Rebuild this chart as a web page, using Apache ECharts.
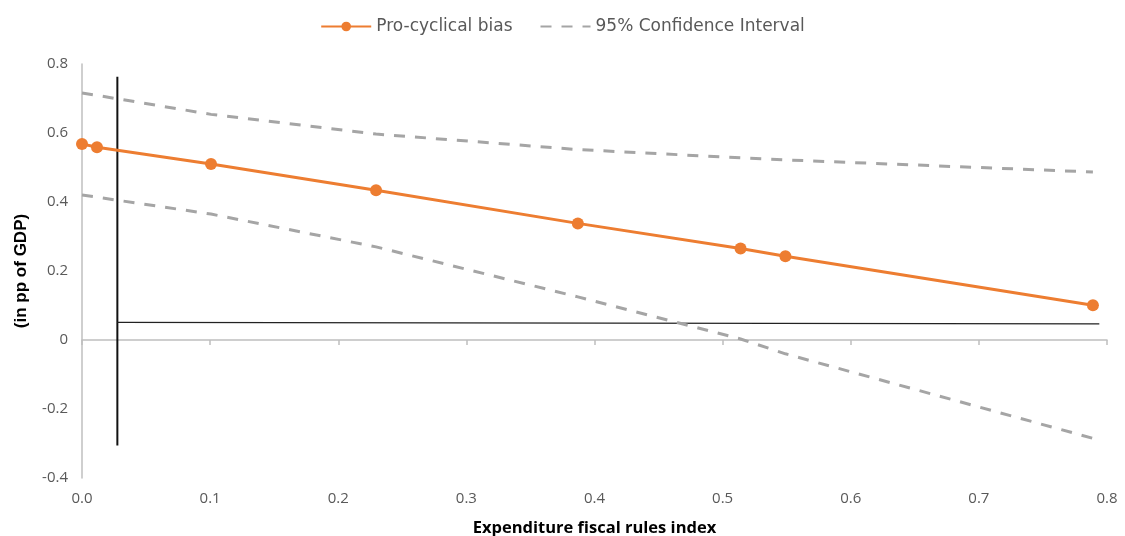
<!DOCTYPE html>
<html>
<head>
<meta charset="utf-8">
<script src="https://cdn.jsdelivr.net/npm/echarts@6/dist/echarts.min.js"></script>
<style>html,body{margin:0;padding:0;background:#fff}#c{width:1125px;height:536px}</style>
</head>
<body>
<div id="c"></div>
<script>
const xValues = [0.0, 0.0117, 0.1007, 0.2295, 0.387, 0.514, 0.549, 0.789];
const procyclical = [0.568, 0.559, 0.510, 0.434, 0.338, 0.265, 0.243, 0.101];
const ciUpper = [0.716, 0.709, 0.654, 0.597, 0.552, 0.528, 0.522, 0.487];
const ciLower = [0.420, 0.414, 0.365, 0.270, 0.125, 0.003, -0.040, -0.285];
const verticalRef = [[0.0276, 0.763], [0.0276, -0.306]];
const horizontalRef = [[0.0276, 0.051], [0.794, 0.047]];
const xTicks = [0, 0.1, 0.2, 0.3, 0.4, 0.5, 0.6, 0.7, 0.8];
const yTicks = [-0.4, -0.2, 0, 0.2, 0.4, 0.6, 0.8];

const pair = (xs, ys) => xs.map((x, i) => [x, ys[i]]);
const FONT = '"Open Sans", sans-serif';
const WIDE = '"DejaVu Sans", sans-serif';
const chart = echarts.init(document.getElementById('c'), null, {renderer: 'canvas'});
chart.setOption({
  animation: false,
  backgroundColor: '#fff',
  textStyle: {fontFamily: FONT},
  legend: {
    top: 13, left: 'center',
    itemWidth: 50, itemHeight: 12, itemGap: 27,
    textStyle: {fontFamily: WIDE, fontSize: 17, color: '#595959'},
    data: [
      {name: 'Pro-cyclical bias'},
      {name: '95% Confidence Interval', itemStyle: {opacity: 0}}
    ]
  },
  grid: {left: 82, right: 18, top: 64, bottom: 58, containLabel: false, outerBoundsMode: 'none'},
  xAxis: [{
    type: 'value', min: 0, max: 0.8, interval: 0.1, position: 'bottom',
    axisLine: {onZero: true, lineStyle: {color: '#BFBFBF', width: 1.5}},
    axisTick: {show: true, length: 5, lineStyle: {color: '#BFBFBF', width: 1.5}},
    axisLabel: {show: false},
    splitLine: {show: false}
  }, {
    type: 'value', min: 0, max: 0.8, interval: 0.1, position: 'bottom',
    axisLine: {show: false, onZero: false},
    axisTick: {show: false},
    axisLabel: {show: true, margin: 13, fontSize: 15, color: '#595959', fontFamily: FONT,
      formatter: v => xTicks.includes(Math.round(v*10)/10) ? v.toFixed(1) : ''},
    splitLine: {show: false},
    name: 'Expenditure fiscal rules index', nameLocation: 'middle', nameGap: 42,
    nameTextStyle: {fontSize: 16.5, fontWeight: 'bold', color: '#000', fontFamily: FONT}
  }],
  yAxis: {
    type: 'value', min: -0.4, max: 0.8, interval: 0.2,
    axisLine: {show: true, lineStyle: {color: '#BFBFBF', width: 1.5}},
    axisTick: {show: false},
    axisLabel: {margin: 14, fontSize: 15, color: '#595959', fontFamily: FONT,
      formatter: v => { const r = Math.round(v*10)/10; return yTicks.includes(r) ? String(r) : ''; }},
    splitLine: {show: false},
    name: '(in pp of GDP)', nameLocation: 'middle', nameGap: 52,
    nameTextStyle: {fontSize: 17, fontWeight: 'bold', color: '#000', fontFamily: '"Liberation Sans", Arial, sans-serif'}
  },
  series: [
    {name: 'ref-v', type: 'line', xAxisIndex: 0, data: verticalRef, symbol: 'none', silent: true,
      lineStyle: {color: '#111', width: 2}, z: 1},
    {name: 'ref-h', type: 'line', xAxisIndex: 0, data: horizontalRef, symbol: 'none', silent: true,
      lineStyle: {color: '#222', width: 1.3}, z: 1},
    {name: '95% Confidence Interval', type: 'line', xAxisIndex: 0, data: pair(xValues, ciUpper),
      symbol: 'none', lineStyle: {color: '#A5A5A5', width: 3, type: [11, 10]},
      itemStyle: {color: '#A5A5A5'}, z: 2},
    {name: '95% Confidence Interval', type: 'line', xAxisIndex: 0, data: pair(xValues, ciLower),
      symbol: 'none', lineStyle: {color: '#A5A5A5', width: 3, type: [11, 10]},
      itemStyle: {color: '#A5A5A5'}, z: 2},
    {name: 'Pro-cyclical bias', type: 'line', xAxisIndex: 0, data: pair(xValues, procyclical),
      symbol: 'circle', symbolSize: 12, lineStyle: {color: '#ED7D31', width: 3},
      itemStyle: {color: '#ED7D31'}, z: 3}
  ]
});
</script>
</body>
</html>
